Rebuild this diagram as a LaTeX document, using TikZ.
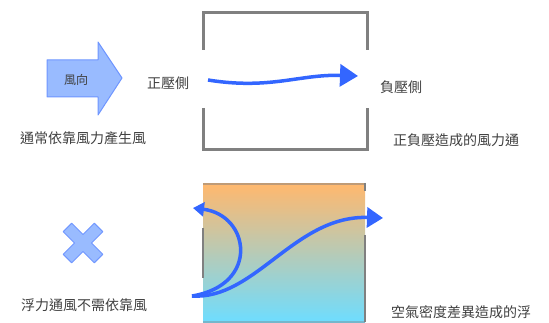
\documentclass[tikz,border=0pt]{standalone}
\usepackage{fontspec}
\setmainfont{Noto Sans CJK TC}
\usetikzlibrary{arrows.meta}
\definecolor{txt}{HTML}{404040}
\definecolor{wall}{HTML}{808080}
\definecolor{flowblue}{HTML}{3366FF}
\definecolor{lightblue}{HTML}{99BBFF}
\definecolor{edgeblue}{HTML}{6F96FF}
\definecolor{warm}{HTML}{FFB86E}
\definecolor{midc}{HTML}{D6CDD6}
\definecolor{cool}{HTML}{6EDDFF}
\tikzset{
  lbl/.style={text=txt, font=\fontsize{14}{14}\selectfont, inner sep=0pt},
  wallline/.style={draw=wall, line width=3pt},
  flow/.style={draw=flowblue, line width=3.5pt},
}
\begin{document}
\begin{tikzpicture}[x=1pt,y=-1pt]
\useasboundingbox (0,0) rectangle (549,323);
% block arrow
\draw[fill=lightblue, draw=edgeblue, line width=1pt, line join=round]
  (47,60) -- (98,60) -- (98,42) -- (122,78) -- (98,115) -- (98,97) -- (47,97) -- cycle;
\node[lbl, font=\fontsize{12}{12}\selectfont] (wind) at (76,80) {風向};
\node[lbl] (pos) at (168,83) {正壓側};
\node[lbl] (neg) at (401,87) {負壓側};
\node[lbl] (t1) at (83,138) {通常依靠風力產生風};
\node[lbl] (t2) at (456,140) {正負壓造成的風力通};
% top box
\draw[wallline] (203,50) -- (203,13) -- (367,13) -- (367,50);
\draw[wallline] (203,108) -- (203,150) -- (367,150) -- (367,108);
\coordinate (a1) at (208,80);
\coordinate (a2) at (358,76);
\draw[flow, -{Triangle[length=18pt,width=22pt]}] (a1) .. controls (270,90) and (300,74) .. (a2);
% cross
\begin{scope}[shift={(83,243)}, rotate=45]
\draw[fill=lightblue, draw=edgeblue, line width=1pt, line join=round]
  (6,6) -- (22,6) -- (22,-6) -- (6,-6) -- (6,-22) -- (-6,-22) -- (-6,-6) -- (-22,-6) -- (-22,6) -- (-6,6) -- (-6,22) -- (6,22) -- cycle;
\end{scope}
\node[lbl] (t3) at (84,305) {浮力通風不需依靠風};
\node[lbl] (t4) at (461,312) {空氣密度差異造成的浮};
% gradient box
\shade[top color=warm, middle color=midc, bottom color=cool] (203,184) rectangle (365,322);
\draw[draw=wall, line width=2pt, opacity=0.5] (203,184) -- (365,184);
\draw[draw=wall, line width=2pt, opacity=0.4] (203,322) -- (365,322);
\draw[draw=wall, line width=2.5pt] (203,228) -- (203,278);
\draw[draw=wall, line width=2.5pt] (365,235) -- (365,322);
\draw[draw=wall, line width=2.5pt] (365,183) -- (365,191);
\coordinate (b0) at (192,296);
\coordinate (b1) at (193,208);
\coordinate (b2) at (383,218);
\draw[flow, -{Triangle[length=11pt,width=14pt]}] (b0) .. controls (260,285) and (250,215) .. (b1);
\draw[flow, -{Triangle[length=16pt,width=20pt]}] (b0) .. controls (255,300) and (295,215) .. (b2);
\end{tikzpicture}
\end{document}
